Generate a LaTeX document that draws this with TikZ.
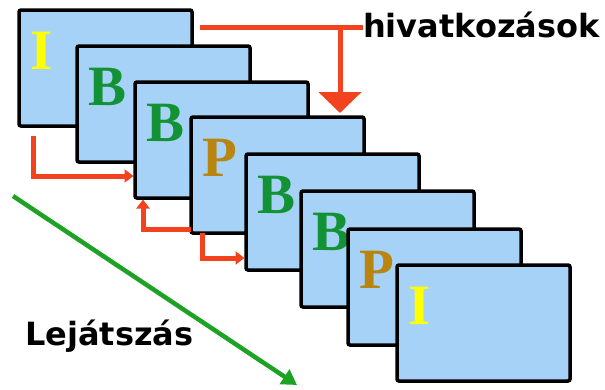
\documentclass[tikz,border=0pt]{standalone}
\usepackage{fontspec}
\setmainfont{DejaVu Sans}
\newfontfamily\letterfont{Liberation Serif}
\usetikzlibrary{calc,arrows.meta}
\definecolor{framefill}{RGB}{166,210,247}
\definecolor{refred}{RGB}{242,66,30}
\definecolor{playgreen}{RGB}{30,162,36}
\definecolor{bgreen}{RGB}{18,146,52}
\definecolor{pgold}{RGB}{184,134,16}
\definecolor{iyellow}{RGB}{255,255,0}

\begin{document}
\begin{tikzpicture}[
    x=1pt,y=-1pt,
    frame/.style={
      draw,
      line width=3.5pt,
      rounded corners=2pt,
      fill=framefill,
      anchor=north west,
      minimum width=173pt,
      minimum height=116pt,
      outer sep=0pt,
    },
    letter/.style={
      anchor=north west,
      inner sep=0pt,
      font=\letterfont\bfseries\fontsize{57}{57}\selectfont,
    },
    caption/.style={
      anchor=base west,
      inner sep=0pt,
      font=\bfseries\fontsize{32}{32}\selectfont,
    },
    refline/.style={draw=refred,line width=5pt},
    reftip/.style={-{Triangle[width=13pt,length=9pt]},shorten >=1.5pt},
  ]
  \useasboundingbox (0,0) rectangle (605,389);
  \foreach \i/\x/\y/\t/\c in {1/19/10/I/iyellow,2/77/46/B/bgreen,
    3/135/82/B/bgreen,4/191/117/P/pgold,5/246/154/B/bgreen,
    6/301/191/B/bgreen,7/348/229/P/pgold,8/397/265/I/iyellow}{
    \node[frame] (f\i) at (\x,\y) {};
    \node[letter,text=\c] (l\i) at ($(f\i.north west)+(11,22)$) {\t};
  };
  \node[caption] (hiv) at (363,37) {hivatkozások};
  \node[caption] (play) at (25,345) {Lejátszás};
  \coordinate (r0) at ($(f1.north east)+(8,17)$);
  \coordinate (split) at ($(r0)+(140,0)$);
  \path[refline] (r0) -- (hiv.west |- r0);
  \path[refline,-{Triangle[width=42pt,length=21pt]},shorten >=4pt]
    (split) -- (split |- f4.north);
  \coordinate (b0) at ($(f1.south west)+(14,10)$);
  \path[refline,reftip] (b0) |- ($(f3.south west)+(0,-22)$);
  \path[refline,reftip] ($(f4.south west)+(0,-4)$) -| ($(f3.south west)+(8,0)$);
  \path[refline,reftip] ($(f4.south west)+(11,0)$) |- ($(f5.south west)+(0,-12)$);
  \coordinate (p0) at (13,196);
  \coordinate (p1) at (297,385);
  \draw[playgreen,line width=4.5pt,-{Triangle[width=17pt,length=15pt]}] (p0) -- (p1);
\end{tikzpicture}
\end{document}
